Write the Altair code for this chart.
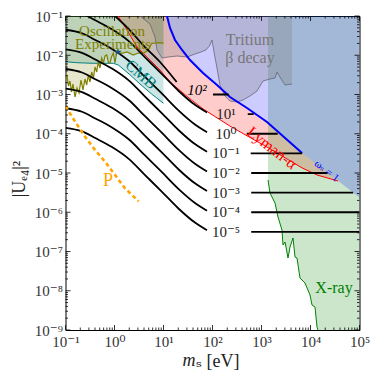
import altair as alt
import pandas as pd

FONT = "Liberation Serif, DejaVu Serif, serif"

# ---------------- data (log10 values) ----------------
# black curves (label -> log10 |U|^2 at curve_logm)
curve_logm = [-1.0, -0.663, -0.392, -0.051, 0.290, 0.629, 0.969, 1.310, 1.649, 1.888]
curve_m5 = [-3.85, -3.94, -4.11, -4.34, -4.64, -5.06, -5.48, -5.91, -6.27, -6.46]
curve_m4 = [-3.35, -3.44, -3.61, -3.84, -4.14, -4.56, -4.98, -5.41, -5.77, -5.96]
curve_m3 = [-2.85, -2.94, -3.11, -3.34, -3.64, -4.06, -4.48, -4.91, -5.27, -5.46]
curve_m2 = [-2.35, -2.44, -2.61, -2.84, -3.14, -3.56, -3.98, -4.41, -4.77, -4.96]
curve_m1 = [-1.85, -1.94, -2.11, -2.34, -2.64, -3.06, -3.48, -3.91, -4.27, -4.46]
curve_p0 = [-1.35, -1.44, -1.61, -1.84, -2.14, -2.56, -2.98, -3.41, -3.77, -3.96]
curve_p1 = [-0.85, -0.94, -1.11, -1.34, -1.64, -2.06, -2.48, -2.91, -3.27, -3.46]
curve_p2_logm = [0.010, 0.316, 0.588, 0.929, 1.269]
curve_p2 = [-1.0, -1.364, -1.746, -2.172, -2.682]

# horizontal continuations
hline_labels = ["10²", "10¹", "10⁰", "10⁻¹", "10⁻²", "10⁻³", "10⁻⁴", "10⁻⁵"]
hline_logU = [-3.0, -3.5, -4.0, -4.5, -5.0, -5.5, -6.0, -6.5]
hline_start = [2.01, 2.72, 2.70, 2.78, 2.79, 2.79, 2.79, 2.79]
hline_end = [2.33, 2.84, 3.33, 3.83, 4.35, 4.87, 5.0, 5.0]

# oscillation experiments boundary
osc_logm = [-1.0, -0.969, -0.939, -0.908, -0.878, -0.847, -0.806, -0.765, -0.724, -0.684,
            -0.643, -0.602, -0.567, -0.535, -0.5, -0.465, -0.429, -0.398, -0.363, -0.331,
            -0.296, -0.261, -0.224, -0.194, -0.159, -0.122, -0.092, -0.061, -0.024, 0.010,
            0.045, 0.071, 0.147, 0.255, 0.384, 0.480, 0.588, 0.690, 0.759, 0.847, 0.929, 1.0]
osc_logU = [-2.580, -2.529, -2.783, -2.656, -2.936, -2.732, -3.064, -2.834, -2.962, -2.631,
            -2.885, -2.605, -2.758, -2.503, -2.682, -2.427, -2.580, -2.299, -2.427, -2.172,
            -2.325, -2.070, -2.197, -2.019, -1.994, -2.197, -2.197, -2.045, -1.943, -2.197,
            -1.917, -1.917, -1.950, -1.917, -1.994, -1.943, -1.950, -1.866, -1.696, -1.688,
            -1.680, -1.696]
star_logm, star_logU = 0.071, -1.917

# CMB boundary
cmb_logm = [-1.0, -0.771, -0.433, -0.024, 0.078, 0.30, 0.52, 0.75, 1.0]
cmb_logU = [-2.164, -2.190, -2.205, -2.205, -2.248, -2.48, -2.73, -2.98, -3.224]

# Lyman-alpha region (lower = red line, upper = omega_s=1 line / top)
red_logm = [0.071, 0.255, 0.459, 0.724, 0.929, 1.071, 1.133, 1.235, 1.378, 1.541,
            1.806, 2.092, 2.357, 2.704, 3.112, 3.827, 4.133, 4.561]
red_lo = [-1.0, -1.357, -1.790, -2.121, -2.376, -2.590, -2.682, -2.789, -2.941, -3.110,
          -3.367, -3.594, -3.805, -4.052, -4.338, -4.870, -5.051, -5.204]
red_hi = [-1.0, -1.0, -1.0, -1.0, -1.0, -1.0, -1.306, -1.611, -1.866, -2.121,
          -2.452, -2.758, -3.064, -3.344, -3.701, -4.490, -4.786, -5.204]

# omega_s = 1 line
blue_logm = [1.071, 1.133, 1.235, 1.378, 1.541, 1.806, 2.092, 2.357, 2.704, 3.112, 3.827, 5.0]
blue_logU = [-1.0, -1.306, -1.611, -1.866, -2.121, -2.452, -2.758, -3.064, -3.344, -3.701, -4.490, -5.627]

# Tritium beta decay boundary
trit_logm = [0.520, 0.724, 0.827, 0.867, 0.969, 1.092, 1.276, 1.480, 1.643, 1.765,
             1.867, 1.949, 1.990, 2.031, 2.092, 2.153, 2.255, 2.357, 2.500, 2.622,
             2.765, 2.908, 3.031, 3.173, 3.276, 3.316, 3.388, 3.480, 3.622]
trit_logU = [-1.0, -1.204, -1.535, -1.866, -2.070, -2.045, -2.019, -2.045, -1.968, -1.917,
             -1.866, -1.739, -1.611, -1.917, -2.325, -2.758, -3.038, -3.166, -3.191, -3.140,
             -3.038, -2.911, -2.656, -2.605, -2.580, -2.427, -2.580, -2.758, -2.732]

# X-ray boundary
xray_logm = [3.133, 3.173, 3.276, 3.337, 3.418, 3.439, 3.480, 3.541, 3.582, 3.643,
             3.684, 3.724, 3.786, 3.888, 3.990, 4.031, 4.092, 4.133, 4.153, 5.0]
xray_logU = [-5.178, -5.510, -5.764, -6.121, -6.452, -6.834, -6.758, -7.166, -6.885, -6.656,
             -7.140, -7.166, -7.675, -7.803, -8.108, -8.363, -8.414, -8.924, -9.0, -9.0]

# P (orange dashed)
p_logm = [-1.0, -0.80, -0.596, -0.392, -0.188, 0.016, 0.220, 0.494]
p_logU = [-3.30, -3.70, -4.083, -4.422, -4.720, -5.059, -5.400, -5.721]

# annotations: text, log m, log U, colour, size, angle, style
annotations = [
    ("Oscillation", -0.051, -1.370, "#808000", 15, 0, "normal"),
    ("Experiments", -0.031, -1.725, "#808000", 15, 0, "normal"),
    ("CMB", 0.541, -2.49, "#008080", 16, 41, "normal"),
    ("Tritium", 2.765, -1.610, "#777777", 16, 0, "normal"),
    ("β decay", 2.765, -2.060, "#777777", 16, 0, "normal"),
    ("Lyman-α", 3.214, -4.363, "#ff0000", 16, 38, "normal"),
    ("ωₛ = 1", 4.33, -4.95, "#0000ff", 11, 38, "normal"),
    ("X-ray", 4.48, -7.93, "#008000", 16, 0, "normal"),
    ("P", -0.133, -5.204, "#ffa500", 18, 0, "normal"),
    ("10²", 1.684, -2.885, "#000000", 15, 0, "italic"),
]
label_logm = 2.276

major_x = [-1, 0, 1, 2, 3, 4, 5]
major_y = [-9, -8, -7, -6, -5, -4, -3, -2, -1]

# ---------------- chart ----------------
W, H = 294, 314
xs = alt.Scale(type="log", domain=[0.1, 1e5], nice=False)
ys = alt.Scale(type="log", domain=[1e-9, 0.1], nice=False)
sup = "['⁰','¹','²','³','⁴','⁵','⁶','⁷','⁸','⁹']"
e = "round(log(datum.value)/LN10)"
lab = "'10' + (" + e + " < 0 ? '⁻' : '') + " + sup + "[abs(" + e + ")]"

xaxis = alt.Axis(values=[10.0 ** k for k in major_x], labelExpr=lab, ticks=False, domain=False,
                 grid=False, labelFont=FONT, labelFontSize=15, labelColor="#333",
                 labelPadding=4, labelFlush=False, labelOverlap=False, title="")
yaxis = alt.Axis(values=[10.0 ** k for k in major_y], labelExpr=lab, ticks=False, domain=False,
                 grid=False, labelFont=FONT, labelFontSize=15, labelColor="#333",
                 labelPadding=3, labelFlush=False, labelOverlap=False, title="")


def X(f):
    return alt.X(f, type="quantitative", scale=xs, axis=xaxis, title="")


def Y(f):
    return alt.Y(f, type="quantitative", scale=ys, axis=yaxis, title="")


def pw(lst):
    return [10.0 ** v for v in lst]


def line_df(logm, logu, name="c"):
    return pd.DataFrame({"m": pw(logm), "u": pw(logu), "i": range(len(logm)), "c": name})


def area(logm, lo, hi, color, op):
    df = pd.DataFrame({"m": pw(logm), "lo": pw(lo), "hi": pw(hi)})
    return alt.Chart(df).mark_area(color=color, opacity=op, orient="vertical", clip=True).encode(
        x=X("m"), y=Y("lo"), y2="hi")


def line(df, color, width, dash=None, interp="linear"):
    kw = dict(color=color, strokeWidth=width, clip=True, interpolate=interp)
    if dash:
        kw["strokeDash"] = dash
    return alt.Chart(df).mark_line(**kw).encode(x=X("m"), y=Y("u"), order="i:Q", detail="c:N")


top = lambda n: [-1.0] * n

layers = []
layers.append(area(red_logm, red_lo, red_hi, "#ff0000", 0.2))
layers.append(area(xray_logm, xray_logU, top(len(xray_logm)), "#008000", 0.2))
layers.append(area(blue_logm, blue_logU, top(len(blue_logm)), "#0000ff", 0.2))
layers.append(area(trit_logm, trit_logU, top(len(trit_logm)), "#808080", 0.3))
layers.append(area(cmb_logm, cmb_logU, top(len(cmb_logm)), "#008080", 0.2))
layers.append(area(osc_logm, osc_logU, top(len(osc_logm)), "#808000", 0.2))

layers.append(line(line_df(xray_logm[:-1], xray_logU[:-1]), "#008000", 1))
layers.append(line(line_df(red_logm, red_lo), "#ff0000", 1))
layers.append(line(line_df(trit_logm, trit_logU), "#666677", 0.8))
layers.append(line(line_df(cmb_logm, cmb_logU), "#008080", 1))
layers.append(line(line_df(osc_logm, osc_logU), "#808000", 1.2))
layers.append(line(line_df(blue_logm[:-1], blue_logU[:-1]), "#0000ff", 2))

curves = pd.concat([
    line_df(curve_logm, curve_m5, "m5"), line_df(curve_logm, curve_m4, "m4"),
    line_df(curve_logm, curve_m3, "m3"), line_df(curve_logm, curve_m2, "m2"),
    line_df(curve_logm, curve_m1, "m1"), line_df(curve_logm, curve_p0, "p0"),
    line_df(curve_logm, curve_p1, "p1"), line_df(curve_p2_logm, curve_p2, "p2"),
])
layers.append(line(curves, "black", 1.8, interp="monotone"))

hl = pd.DataFrame({"m": pw(hline_start), "m2": pw(hline_end), "u": pw(hline_logU)})
layers.append(alt.Chart(hl).mark_rule(color="black", strokeWidth=1.8, clip=True).encode(
    x=X("m"), x2="m2", y=Y("u")))
hlab = pd.DataFrame({"m": pw([label_logm] * 7), "u": pw(hline_logU[1:]), "t": hline_labels[1:]})
layers.append(alt.Chart(hlab).mark_text(font=FONT, fontSize=15, color="#222", baseline="middle").encode(
    x=X("m"), y=Y("u"), text="t:N"))

layers.append(line(line_df(p_logm, p_logU), "#ffa500", 2.6, dash=[4, 3]))

star_path = "M0,-1L0.2245,-0.309L0.951,-0.309L0.363,0.118L0.588,0.809L0,0.382L-0.588,0.809L-0.363,0.118L-0.951,-0.309L-0.2245,-0.309Z"
sdf = pd.DataFrame({"m": pw([star_logm]), "u": pw([star_logU])})
layers.append(alt.Chart(sdf).mark_point(shape=star_path, filled=True, size=45, color="#1f3fbf",
                                        stroke="#2a6e2a", strokeWidth=0.5, opacity=1).encode(
    x=X("m"), y=Y("u")))

for t, lm, lu, col, sz, ang, st in annotations:
    df = pd.DataFrame({"m": pw([lm]), "u": pw([lu]), "t": [t]})
    layers.append(alt.Chart(df).mark_text(font=FONT, fontSize=sz, color=col, angle=ang,
                                          fontStyle=st, baseline="middle").encode(
        x=X("m"), y=Y("u"), text="t:N"))

# axis titles as text
tdf = pd.DataFrame({"t": ["m"]})
layers.append(alt.Chart(tdf).mark_text(font=FONT, fontSize=18, fontStyle="italic", color="#222",
                                       align="right", baseline="middle").encode(
    x=alt.value(130), y=alt.value(H + 31), text="t:N"))
tdf2 = pd.DataFrame({"t": ["ₛ [eV]"]})
layers.append(alt.Chart(tdf2).mark_text(font=FONT, fontSize=18, color="#222",
                                        align="left", baseline="middle").encode(
    x=alt.value(130.5), y=alt.value(H + 32), text="t:N"))
tdf3 = pd.DataFrame({"t": ["|Uₑ₄|²"]})
layers.append(alt.Chart(tdf3).mark_text(font=FONT, fontSize=18, color="#222", angle=270,
                                        align="center", baseline="middle").encode(
    x=alt.value(-46), y=alt.value(163), text="t:N"))

# inward ticks on all four sides
minor_x = [d * 10.0 ** k for k in range(-1, 5) for d in range(2, 10)]
minor_y = [d * 10.0 ** k for k in range(-9, -1) for d in range(2, 10)]
for vals, L in ((pw(major_x), 5), (minor_x, 2.5)):
    d = pd.DataFrame({"v": vals})
    layers.append(alt.Chart(d).mark_rule(color="black", strokeWidth=0.8).encode(
        x=X("v"), y=alt.value(H), y2=alt.value(H - L)))
    layers.append(alt.Chart(d).mark_rule(color="black", strokeWidth=0.8).encode(
        x=X("v"), y=alt.value(0), y2=alt.value(L)))
for vals, L in ((pw(major_y), 5), (minor_y, 2.5)):
    d = pd.DataFrame({"v": vals})
    layers.append(alt.Chart(d).mark_rule(color="black", strokeWidth=0.8).encode(
        y=Y("v"), x=alt.value(0), x2=alt.value(L)))
    layers.append(alt.Chart(d).mark_rule(color="black", strokeWidth=0.8).encode(
        y=Y("v"), x=alt.value(W), x2=alt.value(W - L)))

chart = alt.layer(*layers).properties(
    width=W, height=H,
    autosize=alt.AutoSizeParams(type="none"),
    padding={"left": 57.5, "top": 8, "right": 10, "bottom": 45},
    background="white",
).configure_view(stroke="black", strokeWidth=1)

chart.save("out.html", embed_options={"renderer": "svg", "actions": False})
